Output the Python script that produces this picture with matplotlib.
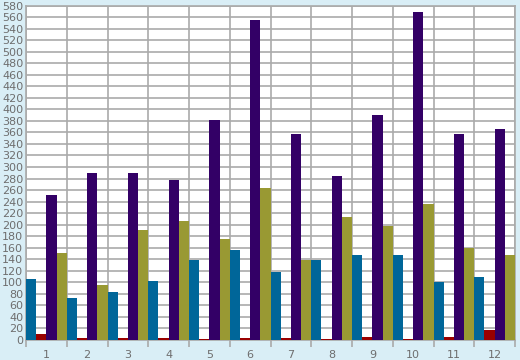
import numpy as np
import matplotlib
matplotlib.use('Agg')
import matplotlib.pyplot as plt

categories = ['1', '2', '3', '4', '5', '6', '7', '8', '9', '10', '11', '12']
blue = [105, 72, 84, 103, 138, 156, 118, 138, 147, 147, 100, 110]
red = [10, 4, 4, 4, 1, 4, 4, 1, 5, 1, 5, 17]
purple = [252, 289, 290, 278, 382, 554, 358, 284, 391, 568, 358, 365]
olive = [150, 95, 190, 207, 175, 263, 138, 213, 197, 235, 159, 148]

series = [blue, red, purple, olive]
colors = ['#006699', '#990000', '#330066', '#999933']

bg = '#d9eef6'
grid = '#aaaaaa'
txt = '#6e6e6e'

fig = plt.figure(figsize=(5.2, 3.6), dpi=100)
fig.patch.set_facecolor(bg)
ax = fig.add_axes([26 / 520, 20 / 360, 489 / 520, 334.5 / 360])
ax.set_facecolor('white')

x = np.arange(len(categories))
w = 0.25
for k, (vals, c) in enumerate(zip(series, colors)):
    ax.bar(x + k * w, vals, width=w, align='edge', color=c, linewidth=0, zorder=3)

ax.set_xlim(0, len(categories))
ax.set_ylim(0, 580)
ax.set_yticks(np.arange(0, 581, 20))
ax.set_xticks(x + 0.5)
ax.set_xticklabels(categories)
ax.set_xticks(np.arange(0, len(categories) + 1), minor=True)
ax.tick_params(axis='x', which='major', length=0, pad=7, labelsize=8, labelcolor=txt)
ax.tick_params(axis='x', which='minor', length=5, width=1.2, color=grid)
ax.tick_params(axis='y', length=0, pad=2, labelsize=8, labelcolor=txt)

ax.yaxis.grid(True, color=grid, linewidth=1.2, zorder=0)
ax.xaxis.grid(True, which='minor', color=grid, linewidth=1.2, zorder=0)
ax.set_axisbelow(True)
for s in ax.spines.values():
    s.set_color(grid)
    s.set_linewidth(1.2)

plt.savefig('out.png', dpi=100, facecolor=bg)
